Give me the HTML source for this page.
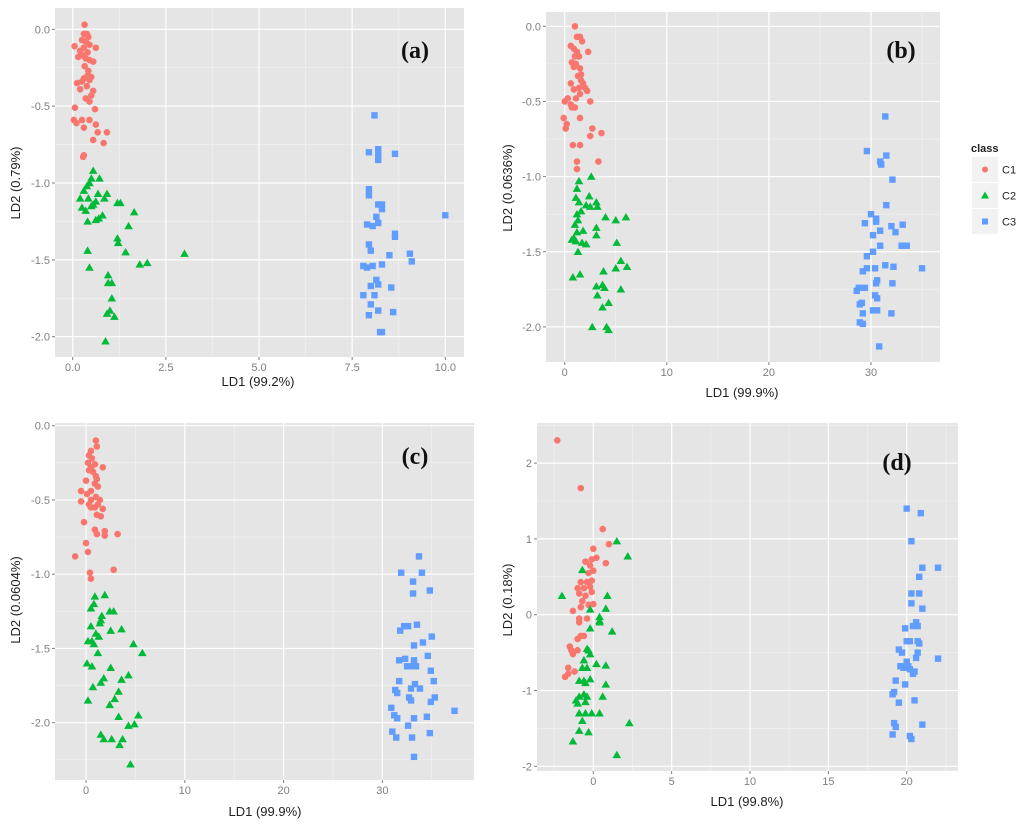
<!DOCTYPE html>
<html><head><meta charset="utf-8"><style>
body{margin:0;background:#fff;}
svg{display:block;font-family:"Liberation Sans",sans-serif;}
</style></head><body>
<svg id="chart" width="1024" height="824" viewBox="0 0 1024 824" xmlns="http://www.w3.org/2000/svg"></svg>
<script>
// ---- Panel (a) data ----
const aC1x=[0.32,0.3,0.38,0.42,0.25,0.35,0.45,0.05,0.3,0.62,0.2,0.4,0.28,0.15,0.35,0.45,0.55,0.32,0.42,0.4,0.5,0.3,0.45,0.25,0.12,0.38,0.2,0.55,0.5,0.35,0.45,0.6,0.06,0.03,0.1,0.25,0.45,0.3,0.62,0.67,0.92,0.55,0.83,0.3,0.28];
const aC1y=[0.03,-0.03,-0.03,-0.05,-0.07,-0.08,-0.1,-0.11,-0.12,-0.12,-0.14,-0.15,-0.17,-0.18,-0.19,-0.2,-0.21,-0.24,-0.27,-0.3,-0.31,-0.32,-0.33,-0.34,-0.35,-0.37,-0.39,-0.4,-0.43,-0.45,-0.47,-0.52,-0.51,-0.59,-0.61,-0.59,-0.59,-0.64,-0.62,-0.67,-0.67,-0.72,-0.74,-0.82,-0.83];
const aC2x=[0.55,0.72,0.5,0.45,0.38,0.3,0.68,0.92,0.2,0.42,0.62,0.85,0.55,0.25,0.35,0.5,1.2,1.28,1.65,0.8,0.7,0.62,0.4,1.5,1.2,1.22,0.4,1.42,3.0,1.8,2.0,0.45,0.95,0.95,1.05,1.05,1.0,0.92,1.12,0.88];
const aC2y=[-0.92,-0.97,-0.97,-1.0,-1.02,-1.05,-1.07,-1.07,-1.1,-1.1,-1.12,-1.1,-1.14,-1.16,-1.18,-1.15,-1.13,-1.13,-1.19,-1.21,-1.23,-1.24,-1.25,-1.28,-1.36,-1.39,-1.44,-1.45,-1.46,-1.53,-1.52,-1.55,-1.6,-1.65,-1.65,-1.75,-1.83,-1.85,-1.87,-2.03];
const aC3x=[8.1,7.95,8.2,8.2,8.2,8.65,7.95,7.95,8.2,8.3,8.3,10.0,8.15,8.2,7.9,8.05,8.65,8.65,7.95,8.0,8.5,9.05,9.1,7.8,7.9,8.05,8.3,8.15,8.2,8.0,8.55,7.8,8.1,8.0,8.2,8.6,7.95,8.25,8.3];
const aC3y=[-0.56,-0.8,-0.78,-0.82,-0.85,-0.81,-1.04,-1.08,-1.14,-1.14,-1.17,-1.21,-1.22,-1.26,-1.27,-1.28,-1.33,-1.35,-1.4,-1.44,-1.47,-1.46,-1.51,-1.54,-1.55,-1.54,-1.53,-1.63,-1.66,-1.67,-1.68,-1.73,-1.73,-1.79,-1.83,-1.84,-1.86,-1.97,-1.97];
// ---- Panel (b) data ----
const bC1x=[1.0,1.2,1.5,1.7,2.3,0.6,0.9,1.2,1.0,1.4,0.7,1.1,0.9,1.5,1.6,1.3,1.6,0.6,1.8,2.0,1.4,2.2,0.9,1.5,1.1,0.3,0.0,2.5,0.6,1.0,0.7,-0.1,1.5,0.2,0.1,2.7,3.6,2.5,0.8,1.5,1.2,3.3,1.2];
const bC1y=[0.0,-0.07,-0.07,-0.1,-0.17,-0.13,-0.15,-0.17,-0.2,-0.2,-0.24,-0.25,-0.27,-0.28,-0.32,-0.33,-0.36,-0.38,-0.38,-0.41,-0.41,-0.43,-0.42,-0.45,-0.48,-0.48,-0.5,-0.5,-0.52,-0.54,-0.54,-0.61,-0.61,-0.65,-0.68,-0.68,-0.71,-0.73,-0.79,-0.79,-0.9,-0.9,-0.95];
const bC2x=[2.6,1.4,1.2,2.4,1.1,1.4,3.1,2.1,2.5,3.2,1.6,1.2,4.0,5.0,6.0,1.3,1.0,3.1,1.8,1.2,3.1,0.9,0.7,1.1,1.7,2.1,5.1,1.3,5.5,6.1,5.0,3.8,1.5,0.8,3.1,3.7,3.9,5.5,3.2,4.3,3.7,2.7,4.1,4.3];
const bC2y=[-1.0,-1.03,-1.08,-1.13,-1.14,-1.17,-1.17,-1.19,-1.2,-1.2,-1.23,-1.25,-1.27,-1.29,-1.27,-1.29,-1.32,-1.34,-1.36,-1.37,-1.39,-1.41,-1.42,-1.43,-1.44,-1.45,-1.44,-1.5,-1.56,-1.6,-1.61,-1.63,-1.65,-1.67,-1.73,-1.72,-1.74,-1.75,-1.79,-1.84,-1.87,-2.0,-2.0,-2.02];
const bC3x=[31.4,29.6,31.5,30.9,31.0,32.1,31.5,30.0,30.5,29.4,30.5,32.0,33.1,30.9,32.4,30.2,30.9,33.0,33.5,30.2,29.6,31.4,32.2,35.0,30.4,29.6,29.2,30.6,30.5,32.1,28.8,29.4,28.6,30.4,30.6,29.1,28.9,30.2,30.6,29.2,32.0,28.9,29.2,30.8];
const bC3y=[-0.6,-0.83,-0.86,-0.9,-0.92,-1.02,-1.19,-1.25,-1.28,-1.31,-1.3,-1.33,-1.32,-1.36,-1.37,-1.39,-1.46,-1.46,-1.46,-1.5,-1.53,-1.59,-1.6,-1.61,-1.61,-1.61,-1.63,-1.69,-1.71,-1.71,-1.74,-1.74,-1.76,-1.79,-1.81,-1.84,-1.85,-1.89,-1.89,-1.91,-1.91,-1.97,-1.98,-2.13];
// ---- Panel (c) data ----
const cC1x=[1.0,1.1,0.5,0.3,0.6,0.2,0.9,0.5,1.7,0.3,0.7,1.0,1.1,0.0,0.9,1.2,0.5,-0.5,0.1,1.0,0.5,1.4,-0.5,0.3,1.2,1.7,0.5,0.9,1.1,1.5,-0.2,0.9,1.9,1.1,1.9,3.2,0.0,0.2,-1.1,2.8,0.4,0.5];
const cC1y=[-0.1,-0.14,-0.17,-0.2,-0.22,-0.25,-0.26,-0.28,-0.28,-0.3,-0.31,-0.34,-0.36,-0.37,-0.39,-0.41,-0.44,-0.44,-0.46,-0.48,-0.5,-0.5,-0.51,-0.53,-0.53,-0.56,-0.55,-0.55,-0.6,-0.61,-0.65,-0.7,-0.71,-0.73,-0.74,-0.73,-0.79,-0.85,-0.88,-0.97,-0.99,-1.03];
const cC2x=[1.9,0.9,0.8,0.5,2.4,2.8,1.6,1.5,1.4,0.5,3.6,2.5,1.0,1.3,0.2,0.6,0.8,4.8,1.2,5.7,0.1,0.6,2.5,4.3,1.8,3.6,1.5,0.7,3.3,2.9,0.2,2.4,3.3,5.3,4.9,4.3,1.5,1.8,2.6,3.7,3.4,4.5];
const cC2y=[-1.14,-1.15,-1.2,-1.23,-1.25,-1.25,-1.28,-1.31,-1.33,-1.35,-1.37,-1.38,-1.4,-1.42,-1.45,-1.45,-1.47,-1.47,-1.53,-1.53,-1.6,-1.62,-1.63,-1.68,-1.7,-1.71,-1.73,-1.76,-1.79,-1.84,-1.85,-1.88,-1.96,-1.95,-2.01,-2.02,-2.08,-2.11,-2.11,-2.11,-2.15,-2.28];
const cC3x=[33.7,31.9,34.0,33.1,34.8,33.1,33.5,32.6,32.2,31.8,35.0,34.1,33.2,34.6,31.7,32.3,33.2,32.5,33.0,33.4,34.9,31.7,35.2,33.3,32.9,33.8,31.3,31.5,32.7,35.3,32.9,34.9,30.9,37.3,31.2,31.5,33.2,34.5,32.6,31.0,34.8,31.4,33.0,33.2];
const cC3y=[-0.88,-0.99,-0.99,-1.05,-1.11,-1.13,-1.34,-1.35,-1.35,-1.38,-1.42,-1.46,-1.48,-1.55,-1.58,-1.57,-1.58,-1.62,-1.62,-1.62,-1.65,-1.72,-1.72,-1.74,-1.77,-1.77,-1.78,-1.8,-1.83,-1.83,-1.85,-1.86,-1.9,-1.92,-1.95,-1.97,-1.97,-1.96,-2.02,-2.06,-2.07,-2.1,-2.1,-2.23];
// ---- Panel (d) data ----
const dC1x=[-2.3,-0.8,0.6,1.0,0.0,0.2,-0.1,-0.5,-0.2,0.8,0.0,-0.3,-0.8,-0.4,-0.1,-1.0,-0.6,-0.2,-0.9,-0.5,-0.1,-0.7,0.0,-0.3,-0.8,-1.3,-0.9,-0.4,-0.9,-0.8,-0.6,-1.0,-1.5,-1.4,-1.0,-1.3,-1.6,-1.2,-1.8,-1.6];
const dC1y=[2.3,1.67,1.13,0.93,0.87,0.75,0.73,0.7,0.65,0.68,0.58,0.55,0.43,0.43,0.45,0.35,0.35,0.37,0.28,0.25,0.3,0.18,0.14,0.13,0.1,0.05,-0.05,-0.05,-0.1,-0.28,-0.28,-0.32,-0.42,-0.47,-0.47,-0.52,-0.7,-0.75,-0.82,-0.78];
const dC2x=[1.5,2.2,-0.7,-2.0,0.9,0.8,-0.2,0.4,0.4,0.4,-0.2,1.2,-0.4,-0.3,-0.2,-0.6,0.2,0.8,-0.7,-0.4,-0.9,-0.6,-0.2,-0.5,0.8,-0.6,-0.9,-0.4,0.6,-1.1,-1.0,-0.5,-0.5,-0.9,-0.1,0.4,-0.7,2.3,-0.9,-0.3,-1.3,1.5];
const dC2y=[0.97,0.77,0.59,0.25,0.25,0.08,0.07,-0.03,-0.08,-0.1,-0.18,-0.22,-0.45,-0.47,-0.52,-0.6,-0.65,-0.67,-0.7,-0.7,-0.87,-0.87,-0.85,-0.9,-0.92,-1.05,-1.08,-1.08,-1.08,-1.13,-1.17,-1.15,-1.3,-1.3,-1.3,-1.3,-1.4,-1.43,-1.53,-1.55,-1.67,-1.85];
const dC3x=[20.0,20.9,20.3,21.0,22.0,20.8,20.3,20.8,20.3,21.0,20.6,20.4,20.7,19.9,20.0,20.2,20.7,20.8,19.5,20.7,19.7,20.6,22.0,20.0,19.6,19.8,20.1,20.2,20.5,20.4,19.3,19.9,19.2,19.1,19.5,20.5,19.2,19.3,21.0,19.1,20.2,20.3];
const dC3y=[1.4,1.34,0.97,0.62,0.62,0.5,0.28,0.28,0.15,0.08,-0.1,-0.15,-0.15,-0.18,-0.35,-0.35,-0.35,-0.38,-0.46,-0.5,-0.5,-0.57,-0.58,-0.62,-0.68,-0.7,-0.68,-0.72,-0.75,-0.78,-0.87,-0.92,-1.02,-1.05,-1.16,-1.13,-1.43,-1.48,-1.45,-1.58,-1.6,-1.64];
// ---- axis tick labels ----
const aXTicks=[0,2.5,5,7.5,10];const aXLabels=["0.0","2.5","5.0","7.5","10.0"];
const y5Ticks=[0,-0.5,-1,-1.5,-2];const y5Labels=["0.0","-0.5","-1.0","-1.5","-2.0"];
const x30Ticks=[0,10,20,30];const x30Labels=["0","10","20","30"];
const dXTicks=[0,5,10,15,20];const dXLabels=["0","5","10","15","20"];
const dYTicks=[2,1,0,-1,-2];const dYLabels=["2","1","0","-1","-2"];
const classNames=["C1","C2","C3"];

const NS="http://www.w3.org/2000/svg";
const svg=document.getElementById('chart');
const COL=["#F8766D","#00BA38","#619CFF"];
function mk(tag,at,parent){const e=document.createElementNS(NS,tag);for(const k in at)e.setAttribute(k,at[k]);(parent||svg).appendChild(e);return e;}

const panels=[
 {id:'a',L:55,R:464,T:8,B:357,x0:72.7,xs:37.26,y0:29.3,ys:153.7,xt:aXTicks,xl:aXLabels,yt:y5Ticks,yl:y5Labels,xtitle:"LD1 (99.2%)",ytitle:"LD2 (0.79%)",xtx:258,xty:386,ytx:20,yty:183,lx:415,ly:58,data:[[aC1x,aC1y],[aC2x,aC2y],[aC3x,aC3y]]},
 {id:'b',L:546,R:940,T:12,B:362,x0:564.7,xs:10.21,y0:26.3,ys:150.3,xt:x30Ticks,xl:x30Labels,yt:y5Ticks,yl:y5Labels,xtitle:"LD1 (99.9%)",ytitle:"LD2 (0.0636%)",xtx:742,xty:397,ytx:512,yty:188,lx:901,ly:58,data:[[bC1x,bC1y],[bC2x,bC2y],[bC3x,bC3y]]},
 {id:'c',L:55,R:474,T:423,B:780,x0:86,xs:9.88,y0:425.7,ys:148.5,xt:x30Ticks,xl:x30Labels,yt:y5Ticks,yl:y5Labels,xtitle:"LD1 (99.9%)",ytitle:"LD2 (0.0604%)",xtx:265,xty:816,ytx:20,yty:600,lx:415,ly:464,data:[[cC1x,cC1y],[cC2x,cC2y],[cC3x,cC3y]]},
 {id:'d',L:537,R:958,T:423,B:771,x0:593.3,xs:15.67,y0:614.7,ys:75.8,xt:dXTicks,xl:dXLabels,yt:dYTicks,yl:dYLabels,xtitle:"LD1 (99.8%)",ytitle:"LD2 (0.18%)",xtx:747,xty:806,ytx:512,yty:600,lx:897,ly:470,data:[[dC1x,dC1y],[dC2x,dC2y],[dC3x,dC3y]]}
];

panels.forEach(p=>{
 const X=v=>p.x0+v*p.xs, Y=v=>p.y0-v*p.ys;
 const g=mk('g',{});
 
 
 const bg=mk('rect',{x:p.L,y:p.T,width:p.R-p.L,height:p.B-p.T,fill:'#E5E5E5'},g);
 
 
 // minor grid
 const xstep=p.xt[1]-p.xt[0], ystep=p.yt[1]-p.yt[0];
 for(let i=-1;i<=p.xt.length;i++){const v=p.xt[0]+(i+0.5)*xstep;const px=X(v);if(px>p.L&&px<p.R){const l=mk('line',{x1:px,x2:px,y1:p.T,y2:p.B,stroke:'#F2F2F2','stroke-width':0.6},g);}}
 for(let i=-1;i<=p.yt.length;i++){const v=p.yt[0]+(i+0.5)*ystep;const py=Y(v);if(py>p.T&&py<p.B){const l=mk('line',{x1:p.L,x2:p.R,y1:py,y2:py,stroke:'#F2F2F2','stroke-width':0.6},g);}}
 p.xt.forEach((v,i)=>{const px=X(v);
  const l=mk('line',{x1:px,x2:px,y1:p.T,y2:p.B,stroke:'#fff','stroke-width':1.2},g);
  
  
  mk('line',{x1:px,x2:px,y1:p.B,y2:p.B+3,stroke:'#7f7f7f'},g);
  const t=mk('text',{x:px,y:p.B+14,'text-anchor':'middle','font-size':11,fill:'#7f7f7f'},g);t.textContent=p.xl[i];
  
  });
 p.yt.forEach((v,i)=>{const py=Y(v);
  const l=mk('line',{x1:p.L,x2:p.R,y1:py,y2:py,stroke:'#fff','stroke-width':1.2},g);
  
  
  mk('line',{x1:p.L-3,x2:p.L,y1:py,y2:py,stroke:'#7f7f7f'},g);
  const t=mk('text',{x:p.L-5,y:py+4,'text-anchor':'end','font-size':11,fill:'#7f7f7f'},g);t.textContent=p.yl[i];
  
  });
 p.data.forEach((s,k)=>{const xs=s[0],ys=s[1];
  for(let i=0;i<xs.length;i++){const cx=X(xs[i]),cy=Y(ys[i]);let m;
   if(k===0)m=mk('circle',{cx:cx,cy:cy,r:3.3,fill:COL[0]},g);
   else if(k===1)m=mk('polygon',{points:`${cx},${cy-4.2} ${cx-4.3},${cy+3.2} ${cx+4.3},${cy+3.2}`,fill:COL[1]},g);
   else m=mk('rect',{x:cx-3.2,y:cy-3.2,width:6.4,height:6.4,fill:COL[2]},g);
   
   }});
 const xt=mk('text',{x:p.xtx,y:p.xty,'text-anchor':'middle','font-size':13,fill:'#222'},g);xt.textContent=p.xtitle;
 
 
 const yt=mk('text',{x:p.ytx,y:p.yty,'text-anchor':'middle','font-size':13,fill:'#222',transform:`rotate(-90 ${p.ytx} ${p.yty})`},g);yt.textContent=p.ytitle;
 
 
 const lb=mk('text',{x:p.lx,y:p.ly,'text-anchor':'middle','font-size':24,'font-weight':'bold','font-family':'"Liberation Serif",serif',fill:'#111'},g);lb.textContent='('+p.id+')';
 
 
});

// legend
const lg=mk('g',{});


const lt=mk('text',{x:971,y:152,'font-size':11,'font-weight':'bold',fill:'#222'},lg);lt.textContent='class';


classNames.forEach((c,k)=>{const y=157+k*26;
 const r=mk('rect',{x:972,y:y,width:26,height:25,fill:'#F2F2F2'},lg);
 
 
 const cx=985,cy=y+12.5;
 if(k===0)mk('circle',{cx:cx,cy:cy,r:3,fill:COL[0]},lg);
 else if(k===1)mk('polygon',{points:`${cx},${cy-4} ${cx-4},${cy+3} ${cx+4},${cy+3}`,fill:COL[1]},lg);
 else mk('rect',{x:cx-3,y:cy-3,width:6,height:6,fill:COL[2]},lg);
 const t=mk('text',{x:1002,y:cy+4,'font-size':11,fill:'#222'},lg);t.textContent=c;
 
 });
</script>
</body></html>
